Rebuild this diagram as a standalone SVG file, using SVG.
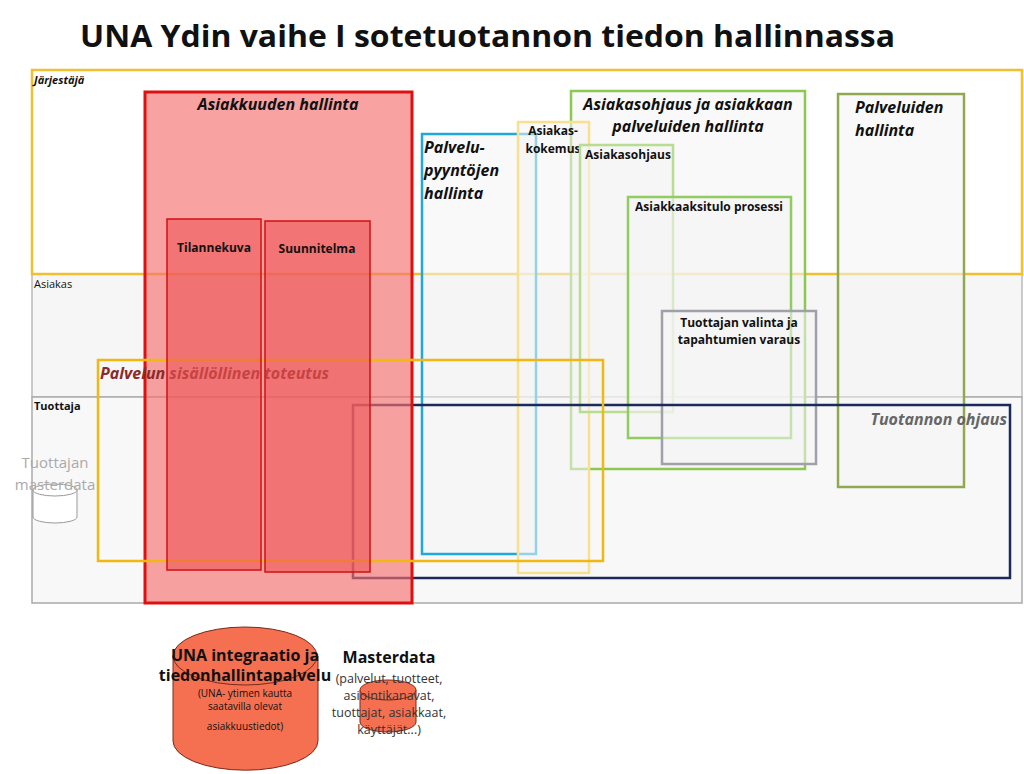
<svg xmlns="http://www.w3.org/2000/svg" width="1024" height="774" viewBox="0 0 1024 774">
<style>
text{font-family:"Open Sans","Liberation Sans",sans-serif;fill:#111}
.b{fill:#f4f4f4;fill-opacity:0.55;stroke-width:2.5}
.h{font-weight:bold;font-style:italic;font-size:16px}
.s{font-weight:bold;font-size:12px}
.band{font-size:11px}
</style>
<rect width="1024" height="774" fill="#fff"/>
<text x="80" y="47" font-size="31" font-weight="bold" textLength="815" lengthAdjust="spacingAndGlyphs">UNA Ydin vaihe I sotetuotannon tiedon hallinnassa</text>
<g id="bands">
<rect x="32" y="274" width="990" height="123" fill="#f6f6f6" stroke="#bbb" stroke-width="1.5"/>
<rect x="32" y="397" width="990" height="206" fill="#f8f8f8" stroke="#aaa" stroke-width="1.5"/>
<rect x="32" y="70" width="990" height="204" fill="#fff" stroke="#f0c030" stroke-width="2.5"/>
<text x="34" y="84" class="band" font-weight="bold" font-style="italic">Järjestäjä</text>
<text x="34" y="288" class="band" fill="#444">Asiakas</text>
<text x="34" y="410" class="band" font-weight="bold">Tuottaja</text>
</g>
<g id="palvelupyynnot"><rect class="b" x="422" y="134" width="114" height="420" stroke="#20a8d8"/>
<text x="424" y="153" class="h">Palvelu-</text><text x="424" y="176" class="h">pyyntöjen</text><text x="424" y="199" class="h">hallinta</text></g>
<g id="asiakasohjausjahallinta"><rect class="b" x="571" y="91" width="234" height="378" stroke="#8cc850"/>
<text x="688" y="110" class="h" text-anchor="middle">Asiakasohjaus ja asiakkaan</text><text x="688" y="132" class="h" text-anchor="middle">palveluiden hallinta</text></g>
<g id="asiakaskokemus"><rect class="b" x="518" y="122" width="71" height="451" stroke="#f8e090"/>
<text x="553" y="135" class="s" text-anchor="middle">Asiakas-</text><text x="553" y="153" class="s" text-anchor="middle">kokemus</text></g>
<g id="asiakasohjaus"><rect class="b" x="580" y="145" width="93" height="267" stroke="#b8dc90" stroke-width="2"/>
<text x="585" y="159" class="s">Asiakasohjaus</text></g>
<g id="asiakkaaksitulo"><rect class="b" x="628" y="197" width="163" height="241" stroke="#90cc60" stroke-width="2"/>
<text x="709" y="211" class="s" text-anchor="middle">Asiakkaaksitulo prosessi</text></g>
<g id="tuottajanvalinta"><rect class="b" x="662" y="311" width="154" height="153" stroke="#a0a0a8"/>
<text x="739" y="327" class="s" text-anchor="middle">Tuottajan valinta ja</text><text x="739" y="344" class="s" text-anchor="middle">tapahtumien varaus</text></g>
<g id="palveluiden"><rect class="b" x="838" y="94" width="126" height="393" stroke="#90a850"/>
<text x="855" y="113" class="h">Palveluiden</text><text x="855" y="136" class="h">hallinta</text></g>
<g id="tuotannonohjaus"><rect x="353" y="405" width="657" height="173" fill="none" stroke="#1a2a5a" stroke-width="2.5"/>
<text x="1007" y="425" class="h" text-anchor="end" fill="#666" style="fill:#666">Tuotannon ohjaus</text></g>
<g id="asiakkuus"><rect x="145" y="92" width="267" height="511" fill="#f47070" fill-opacity="0.65" stroke="#e01010" stroke-width="3"/>
<text x="278" y="110" class="h" text-anchor="middle">Asiakkuuden hallinta</text></g>
<g id="palvelunsisallollinen"><rect x="98" y="360" width="505" height="201" fill="none" stroke="#f0b810" stroke-width="2.5"/>
<text x="100" y="379" class="h" style="fill:#8a2a2a">Palvelun sisällöllinen toteutus</text></g>
<g id="tilannekuva"><rect x="167" y="219" width="94" height="351" fill="#ee5555" fill-opacity="0.6" stroke="#d01010" stroke-width="1.5"/>
<text x="214" y="252" class="s" text-anchor="middle">Tilannekuva</text></g>
<g id="suunnitelma"><rect x="265" y="221" width="105" height="351" fill="#ee5555" fill-opacity="0.6" stroke="#d01010" stroke-width="1.5"/>
<text x="317" y="253" class="s" text-anchor="middle">Suunnitelma</text></g>
<g id="tuottajanmasterdata">
<path d="M33 490 V517 A22 6 0 0 0 77 517 V490" fill="#fff" stroke="#999"/>
<ellipse cx="55" cy="490" rx="22" ry="6" fill="#fff" stroke="#999"/>
<text x="55" y="468" font-size="15" text-anchor="middle" style="fill:#aaa">Tuottajan</text>
<text x="55" y="490" font-size="15" text-anchor="middle" style="fill:#aaa">masterdata</text>
</g>
<g id="una">
<path d="M173 656 V741 A72 29 0 0 0 318 741 V656" fill="#f47050" stroke="#7a2a1a"/>
<ellipse cx="245" cy="656" rx="72" ry="29" fill="#f47050" stroke="#7a2a1a"/>
<text x="245" y="661" font-size="16" font-weight="bold" text-anchor="middle">UNA integraatio ja</text>
<text x="245" y="681" font-size="16" font-weight="bold" text-anchor="middle">tiedonhallintapalvelu</text>
<text x="245" y="697" font-size="10" text-anchor="middle">(UNA- ytimen kautta</text>
<text x="245" y="710" font-size="10" text-anchor="middle">saatavilla olevat</text>
<text x="245" y="730" font-size="10" text-anchor="middle">asiakkuustiedot)</text>
</g>
<g id="masterdata">
<path d="M360 690 V722 A28 10 0 0 0 416 722 V690" fill="#f47050" stroke="#7a2a1a"/>
<ellipse cx="388" cy="690" rx="28" ry="10" fill="#f47050" stroke="#7a2a1a"/>
<text x="389" y="663" font-size="16" font-weight="bold" text-anchor="middle">Masterdata</text>
<text x="389" y="683" font-size="12.5" text-anchor="middle" style="fill:#333">(palvelut, tuotteet,</text>
<text x="389" y="700" font-size="12.5" text-anchor="middle" style="fill:#333">asiointikanavat,</text>
<text x="389" y="717" font-size="12.5" text-anchor="middle" style="fill:#333">tuottajat, asiakkaat,</text>
<text x="389" y="734" font-size="12.5" text-anchor="middle" style="fill:#333">käyttäjät...)</text>
</g>
<g id="connectors"/>
</svg>
